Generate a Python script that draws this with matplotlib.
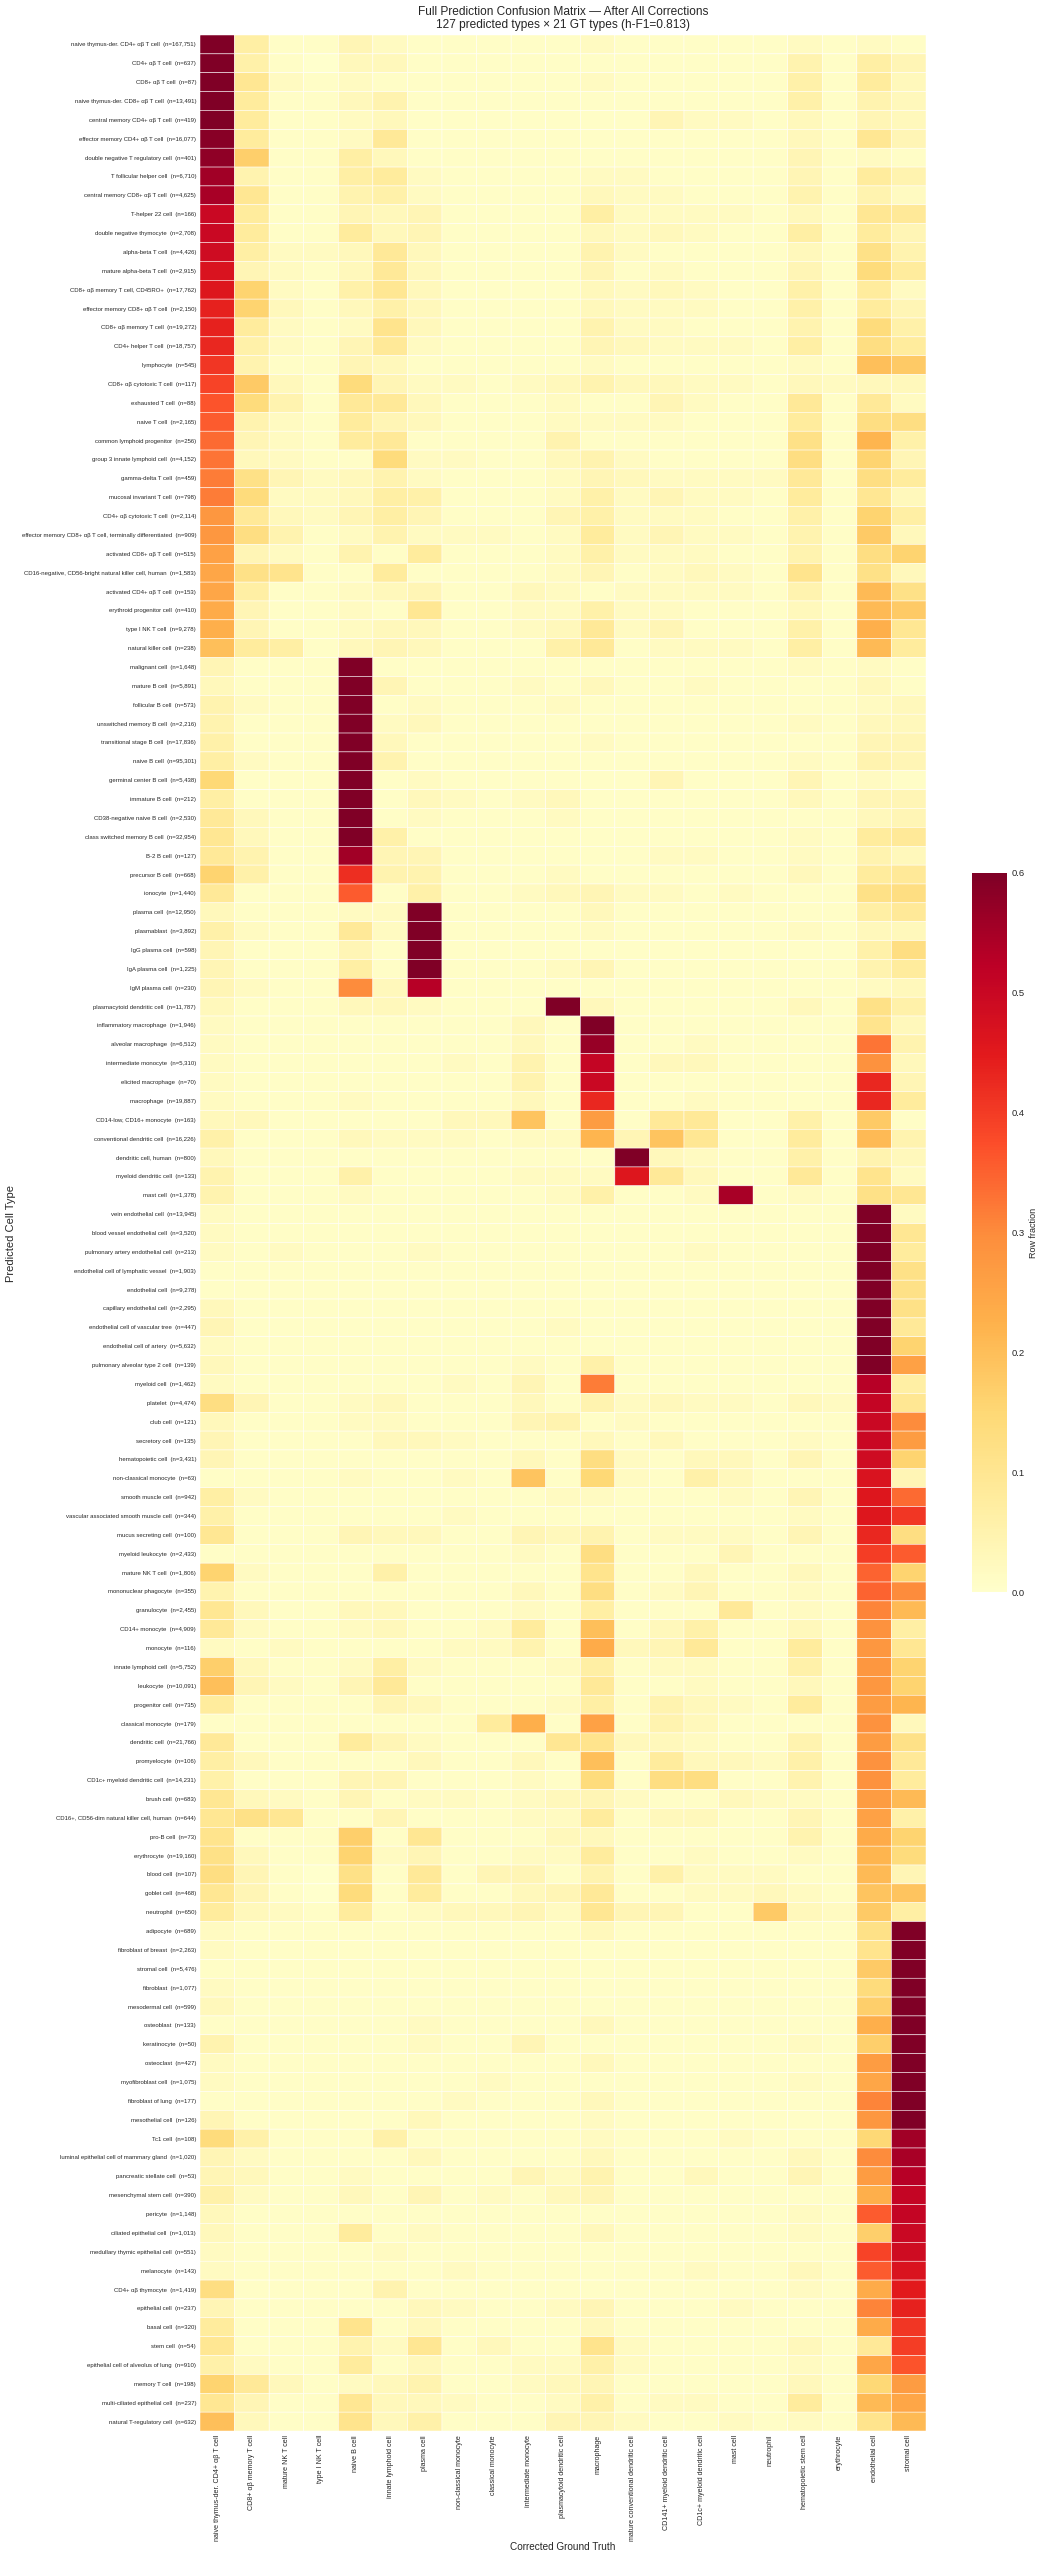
import matplotlib
matplotlib.use("Agg")
import matplotlib.pyplot as plt
import numpy as np

plt.rcParams['font.family'] = ['Liberation Sans', 'DejaVu Sans']
plt.rcParams['text.color'] = '#262626'
plt.rcParams['axes.labelcolor'] = '#262626'
plt.rcParams['xtick.color'] = '#262626'
plt.rcParams['ytick.color'] = '#262626'

gt_types = [
    "naive thymus-der. CD4+ αβ T cell", "CD8+ αβ memory T cell", "mature NK T cell", "type I NK T cell",
    "naive B cell", "innate lymphoid cell", "plasma cell", "non-classical monocyte", "classical monocyte",
    "intermediate monocyte", "plasmacytoid dendritic cell", "macrophage", "mature conventional dendritic cell",
    "CD141+ myeloid dendritic cell", "CD1c+ myeloid dendritic cell", "mast cell", "neutrophil",
    "hematopoietic stem cell", "erythrocyte", "endothelial cell", "stromal cell",
]

pred_types = [
    "naive thymus-der. CD4+ αβ T cell", "CD4+ αβ T cell", "CD8+ αβ T cell", "naive thymus-der. CD8+ αβ T cell",
    "central memory CD4+ αβ T cell", "effector memory CD4+ αβ T cell", "double negative T regulatory cell",
    "T follicular helper cell", "central memory CD8+ αβ T cell", "T-helper 22 cell", "double negative thymocyte",
    "alpha-beta T cell", "mature alpha-beta T cell", "CD8+ αβ memory T cell, CD45RO+",
    "effector memory CD8+ αβ T cell", "CD8+ αβ memory T cell", "CD4+ helper T cell", "lymphocyte",
    "CD8+ αβ cytotoxic T cell", "exhausted T cell", "naive T cell", "common lymphoid progenitor",
    "group 3 innate lymphoid cell", "gamma-delta T cell", "mucosal invariant T cell", "CD4+ αβ cytotoxic T cell",
    "effector memory CD8+ αβ T cell, terminally differentiated", "activated CD8+ αβ T cell",
    "CD16-negative, CD56-bright natural killer cell, human", "activated CD4+ αβ T cell",
    "erythroid progenitor cell", "type I NK T cell", "natural killer cell", "malignant cell", "mature B cell",
    "follicular B cell", "unswitched memory B cell", "transitional stage B cell", "naive B cell",
    "germinal center B cell", "immature B cell", "CD38-negative naive B cell", "class switched memory B cell",
    "B-2 B cell", "precursor B cell", "ionocyte", "plasma cell", "plasmablast", "IgG plasma cell",
    "IgA plasma cell", "IgM plasma cell", "plasmacytoid dendritic cell", "inflammatory macrophage",
    "alveolar macrophage", "intermediate monocyte", "elicited macrophage", "macrophage",
    "CD14-low, CD16+ monocyte", "conventional dendritic cell", "dendritic cell, human", "myeloid dendritic cell",
    "mast cell", "vein endothelial cell", "blood vessel endothelial cell", "pulmonary artery endothelial cell",
    "endothelial cell of lymphatic vessel", "endothelial cell", "capillary endothelial cell",
    "endothelial cell of vascular tree", "endothelial cell of artery", "pulmonary alveolar type 2 cell",
    "myeloid cell", "platelet", "club cell", "secretory cell", "hematopoietic cell", "non-classical monocyte",
    "smooth muscle cell", "vascular associated smooth muscle cell", "mucus secreting cell", "myeloid leukocyte",
    "mature NK T cell", "mononuclear phagocyte", "granulocyte", "CD14+ monocyte", "monocyte",
    "innate lymphoid cell", "leukocyte", "progenitor cell", "classical monocyte", "dendritic cell",
    "promyelocyte", "CD1c+ myeloid dendritic cell", "brush cell", "CD16+, CD56-dim natural killer cell, human",
    "pro-B cell", "erythrocyte", "blood cell", "goblet cell", "neutrophil", "adipocyte", "fibroblast of breast",
    "stromal cell", "fibroblast", "mesodermal cell", "osteoblast", "keratinocyte", "osteoclast",
    "myofibroblast cell", "fibroblast of lung", "mesothelial cell", "Tc1 cell",
    "luminal epithelial cell of mammary gland", "pancreatic stellate cell", "mesenchymal stem cell", "pericyte",
    "ciliated epithelial cell", "medullary thymic epithelial cell", "melanocyte", "CD4+ αβ thymocyte",
    "epithelial cell", "basal cell", "stem cell", "epithelial cell of alveolus of lung", "memory T cell",
    "multi-ciliated epithelial cell", "natural T-regulatory cell",
]

pred_counts = [
    167751, 637, 87, 13491, 419, 16077, 401, 6710, 4625, 166, 2708, 4426, 2915, 17762, 2150, 19272, 18757, 545,
    117, 88, 2165, 256, 4152, 459, 798, 2114, 909, 515, 1583, 153, 410, 9278, 238, 1648, 5891, 573, 2216, 17836,
    95301, 5438, 212, 2530, 32954, 127, 668, 1440, 12950, 3892, 598, 1225, 230, 11787, 1946, 6512, 5310, 70,
    19887, 163, 16226, 800, 133, 1378, 13945, 3520, 213, 1903, 9278, 2295, 447, 5632, 139, 1462, 4474, 121, 135,
    3431, 63, 942, 344, 100, 2433, 1806, 355, 2455, 4909, 116, 5752, 10091, 735, 179, 21766, 106, 14231, 683,
    644, 73, 19160, 107, 468, 650, 689, 2263, 5476, 1077, 599, 133, 50, 427, 1075, 177, 126, 108, 1020, 53, 390,
    1148, 1013, 551, 143, 1419, 237, 320, 54, 910, 198, 237, 632,
]

# row fraction in percent
row_percent = [
    [60,7,1,1,4,2,1,1,1,1,1,2,1,1,1,1,1,2,1,2,1],
    [60,6,1,0,3,3,1,1,1,1,1,1,1,1,1,1,1,5,1,7,4],
    [60,10,2,1,2,1,1,1,1,1,1,2,1,1,1,1,1,6,1,8,3],
    [60,8,1,1,3,5,1,1,1,1,1,1,1,1,1,1,1,6,1,5,3],
    [60,8,1,1,2,3,1,1,1,1,1,1,1,4,2,2,1,3,1,4,3],
    [59,8,1,1,2,9,1,1,1,1,1,1,1,1,1,1,1,3,1,10,4],
    [58,17,1,1,7,3,1,1,1,1,1,1,1,1,1,1,1,4,1,2,1],
    [56,5,1,1,7,8,2,1,1,1,1,2,2,1,1,1,1,4,1,8,5],
    [55,10,1,1,5,6,2,1,1,1,1,3,2,2,1,1,1,5,1,5,2],
    [50,8,1,1,4,3,4,1,1,1,1,7,2,2,2,2,1,3,1,10,9],
    [50,8,1,1,8,3,4,1,1,1,1,3,2,3,2,1,1,7,1,8,4],
    [49,7,2,2,3,9,3,1,1,1,1,5,2,1,1,1,1,3,1,12,5],
    [47,4,2,1,3,9,3,1,1,1,1,4,1,2,1,1,1,4,1,14,8],
    [46,16,2,1,6,10,3,1,1,1,1,3,2,3,2,1,1,6,1,8,2],
    [44,16,3,1,3,6,3,1,1,1,1,3,2,2,2,1,1,6,1,8,4],
    [44,8,2,1,2,11,3,1,1,1,1,5,2,2,1,1,1,5,1,14,6],
    [43,6,2,1,4,9,2,1,1,1,1,4,3,2,2,2,1,7,1,13,8],
    [41,5,1,1,4,3,1,1,1,1,1,2,1,1,1,1,1,2,1,20,18],
    [39,18,3,1,14,4,2,2,1,2,3,5,3,3,2,2,1,3,2,3,3],
    [37,14,5,1,9,9,3,1,1,1,2,1,1,4,2,1,1,9,1,9,2],
    [36,5,2,1,8,4,3,1,1,1,2,2,2,2,1,1,1,8,1,13,13],
    [34,4,2,1,8,9,1,1,1,1,5,1,1,1,1,1,1,12,1,22,6],
    [33,3,2,1,1,14,2,2,1,1,3,5,2,1,1,1,1,13,1,16,4],
    [32,12,4,2,3,5,2,1,1,1,2,4,3,2,2,2,2,9,1,13,8],
    [32,14,2,2,3,7,6,1,1,1,2,6,2,4,2,2,1,8,1,10,3],
    [28,9,3,2,4,7,4,1,1,1,4,6,2,2,2,1,1,6,1,16,7],
    [28,13,5,1,2,5,2,2,2,1,2,8,2,4,2,2,1,5,1,18,3],
    [26,4,2,1,5,1,8,1,1,1,2,6,2,2,2,1,1,5,1,13,16],
    [25,12,11,1,1,8,1,1,1,1,2,4,1,2,3,2,1,11,1,12,3],
    [25,7,1,1,2,3,4,1,1,3,2,1,2,2,2,2,1,5,1,21,12],
    [24,4,1,1,2,1,10,1,1,2,2,6,2,2,1,1,1,3,1,21,18],
    [23,4,1,1,2,3,3,1,1,2,3,9,2,4,1,1,1,6,1,23,10],
    [20,8,7,1,3,4,3,1,1,1,6,9,1,2,2,2,1,7,1,21,8],
    [4,1,1,1,60,1,1,1,1,1,1,1,1,1,1,1,1,2,1,2,1],
    [3,1,1,1,60,4,1,1,1,2,1,3,1,1,2,1,1,1,1,3,1],
    [5,2,1,1,60,1,2,1,1,1,2,1,1,1,1,1,1,1,1,2,3],
    [5,1,1,1,60,2,3,1,1,1,1,1,1,1,1,1,1,2,1,3,3],
    [6,1,1,1,60,3,1,1,1,1,1,2,1,1,1,1,1,1,1,4,4],
    [7,2,1,1,60,5,1,1,1,1,1,1,1,1,1,1,1,2,1,5,4],
    [15,1,1,1,60,1,2,1,1,1,1,1,1,4,1,1,1,4,1,2,1],
    [7,1,1,1,60,1,3,2,1,2,3,1,1,1,1,1,1,3,1,4,4],
    [9,3,1,1,60,1,2,1,1,1,2,1,1,1,1,1,1,1,1,3,4],
    [10,3,1,1,60,6,1,1,1,1,1,1,1,1,1,1,1,2,1,8,9],
    [9,5,1,1,56,4,4,1,1,1,1,1,1,2,2,1,1,2,1,5,3],
    [16,6,1,1,42,5,5,1,1,1,2,1,1,1,1,1,1,3,1,8,9],
    [9,1,1,1,36,1,6,1,1,2,3,4,2,2,1,2,1,1,1,12,13],
    [3,1,1,1,2,2,60,1,1,1,1,3,1,1,1,1,1,1,1,7,9],
    [6,2,1,1,9,2,60,1,1,1,1,2,1,1,1,1,1,2,1,3,3],
    [4,1,1,1,4,1,60,1,1,1,1,1,1,1,1,1,1,1,1,6,13],
    [4,1,1,1,7,1,60,1,1,1,2,4,1,1,1,1,1,1,1,5,8],
    [4,2,1,1,30,3,53,1,1,1,1,1,1,1,1,1,1,1,1,2,3],
    [3,1,1,1,3,3,2,1,1,1,60,3,1,1,1,1,1,3,1,12,6],
    [2,1,1,1,1,1,1,1,1,3,1,60,1,1,1,1,1,1,1,11,3],
    [2,1,1,1,1,1,1,1,1,3,1,57,1,1,2,1,1,1,1,33,5],
    [2,1,1,1,1,1,1,2,1,5,1,51,1,3,3,1,1,1,1,29,3],
    [2,1,1,1,1,1,1,1,1,5,1,50,1,1,1,1,1,1,1,43,4],
    [2,1,1,1,2,1,1,1,1,3,1,43,1,1,2,1,1,1,1,43,8],
    [3,3,1,1,1,1,1,3,3,19,1,27,1,9,9,1,1,6,1,18,1],
    [6,1,1,1,3,2,2,2,1,2,2,22,4,19,10,1,1,8,1,21,5],
    [3,1,1,1,1,1,1,1,1,1,1,1,60,3,2,1,1,6,1,5,3],
    [5,1,1,1,6,1,1,1,1,2,2,2,46,9,3,1,1,9,1,11,2],
    [5,1,1,1,2,1,1,1,1,1,2,6,1,1,2,55,1,2,1,12,10],
    [2,1,1,1,1,1,1,1,1,1,1,1,1,1,1,1,1,1,1,60,2],
    [2,1,1,1,1,1,1,1,1,1,1,1,1,1,1,1,1,1,1,60,10],
    [2,1,2,1,1,1,2,1,1,1,1,1,1,1,2,1,1,1,1,60,8],
    [1,1,1,1,1,1,1,1,1,1,1,1,1,1,1,1,1,1,1,60,12],
    [1,1,1,1,1,1,1,1,1,1,1,1,1,1,1,1,1,1,1,60,12],
    [3,1,1,1,1,1,1,1,1,1,1,1,1,1,1,1,1,1,1,60,12],
    [4,1,1,1,1,1,1,1,1,1,2,1,1,1,1,1,1,1,1,60,9],
    [2,1,1,1,1,1,1,1,1,1,1,1,1,1,1,1,1,1,1,60,16],
    [3,1,1,1,1,1,1,1,1,2,1,6,1,1,1,1,1,1,1,60,26],
    [2,1,1,1,1,1,1,2,1,4,1,32,1,1,1,1,1,1,1,53,7],
    [13,4,1,1,2,3,1,1,1,3,1,5,2,3,2,2,1,3,2,51,10],
    [3,1,1,1,2,2,1,1,1,4,5,1,2,1,1,1,1,1,1,50,30],
    [4,1,1,1,1,3,3,2,1,1,1,3,1,3,1,1,1,2,1,50,27],
    [4,1,1,1,1,1,1,1,1,3,1,13,2,1,3,3,1,4,1,49,16],
    [1,1,1,1,2,1,1,2,1,19,1,15,2,1,6,3,1,1,1,47,4],
    [7,2,1,1,1,1,1,1,1,1,2,2,1,1,1,2,1,4,1,46,34],
    [6,1,1,1,1,1,1,2,1,1,1,1,1,1,1,1,1,2,1,46,41],
    [10,1,1,1,4,3,3,1,1,4,3,5,1,2,2,2,1,4,1,43,13],
    [1,1,1,1,1,1,1,1,1,2,1,13,1,1,1,4,1,1,1,40,36],
    [16,2,1,1,1,6,1,1,1,1,1,11,1,1,3,1,1,3,1,35,16],
    [5,1,1,1,1,1,1,1,1,3,1,13,1,2,4,1,1,2,1,35,30],
    [10,3,1,1,3,3,1,1,1,2,1,7,1,1,1,9,1,2,1,31,21],
    [9,2,1,1,2,3,1,1,2,8,1,20,1,3,6,1,1,3,1,29,7],
    [2,1,2,1,1,1,1,2,2,5,1,24,3,4,9,1,1,8,1,28,10],
    [17,3,1,1,2,7,2,1,1,1,2,7,1,2,2,1,1,6,1,28,16],
    [20,4,2,1,4,9,1,1,1,1,1,9,1,1,2,1,1,3,1,28,16],
    [8,1,1,1,1,4,3,1,1,1,2,7,1,5,3,2,1,8,1,27,22],
    [1,1,1,1,1,1,1,1,8,23,1,26,1,5,3,1,1,1,1,29,3],
    [9,1,1,1,8,4,2,1,1,1,10,11,3,3,2,1,1,5,1,27,12],
    [7,3,1,1,1,1,3,1,1,3,1,20,1,8,3,3,2,6,1,29,9],
    [6,1,1,1,4,4,1,1,1,2,1,14,1,13,13,1,1,5,1,29,8],
    [10,3,2,1,4,1,2,2,1,2,3,4,2,1,1,3,2,2,1,27,21],
    [10,12,10,1,1,4,1,1,1,2,2,8,1,3,3,1,1,4,1,26,6],
    [11,1,1,1,17,1,10,1,1,1,3,3,1,1,1,1,1,5,1,24,16],
    [12,3,1,1,16,2,4,1,1,2,2,8,1,1,2,1,1,2,1,22,14],
    [13,4,1,0,12,1,9,1,4,4,1,5,1,6,2,2,2,1,1,21,4],
    [10,4,1,0,14,1,8,1,1,3,4,9,1,1,2,2,3,2,1,19,19],
    [8,3,2,1,8,1,2,3,3,4,2,10,4,4,1,1,18,3,2,18,7],
    [2,1,1,1,1,1,1,1,1,1,1,3,1,1,1,1,1,1,1,12,60],
    [2,1,1,1,1,1,1,1,1,1,1,1,1,1,1,1,1,1,1,11,60],
    [1,1,1,1,1,1,1,1,1,1,1,1,1,1,1,1,1,1,1,18,60],
    [2,1,1,1,1,1,1,1,1,1,1,1,1,1,1,1,1,1,1,14,60],
    [3,1,1,1,1,1,1,1,1,1,1,1,1,1,1,1,1,1,1,17,60],
    [1,1,1,1,1,1,2,1,1,1,1,3,1,1,1,1,1,1,1,23,60],
    [5,1,1,1,1,1,2,1,1,4,1,1,1,1,1,1,1,2,1,17,60],
    [2,1,1,1,1,1,1,1,1,1,1,3,1,1,1,1,1,1,1,27,60],
    [2,1,1,1,1,1,1,1,2,1,1,1,1,1,1,1,1,2,1,25,60],
    [1,1,1,1,1,1,1,2,1,1,1,3,1,1,1,1,1,1,1,31,60],
    [4,1,1,1,1,1,3,1,1,1,1,2,1,1,1,1,1,1,1,28,60],
    [14,6,1,1,1,6,1,1,1,1,1,2,1,1,1,2,1,1,1,15,56],
    [4,2,1,1,1,1,3,1,1,1,1,3,1,1,1,1,1,3,1,30,55],
    [4,3,1,1,2,1,1,1,1,4,2,5,1,1,3,1,1,4,1,27,53],
    [6,2,1,1,3,1,4,1,2,1,3,4,1,1,1,1,1,1,1,23,51],
    [3,1,1,1,1,1,1,1,1,1,1,1,1,1,1,1,1,2,1,36,51],
    [3,1,1,1,8,1,2,1,1,1,1,3,1,1,1,1,1,2,1,17,50],
    [2,1,1,1,1,2,1,1,1,1,1,1,1,1,1,1,1,1,1,39,49],
    [2,1,1,1,1,1,1,2,1,1,1,1,1,1,2,1,1,3,1,36,47],
    [13,1,1,1,1,5,1,1,1,1,1,1,1,1,1,1,1,2,1,24,45],
    [4,1,1,1,1,1,3,2,1,1,2,4,1,1,1,2,1,1,1,31,44],
    [8,1,1,1,11,1,3,1,1,1,1,3,1,1,1,1,1,1,1,24,41],
    [10,1,1,1,5,2,10,1,3,1,1,11,2,1,1,1,1,3,1,9,40],
    [6,2,1,1,8,1,3,1,1,2,2,6,2,1,1,1,1,2,1,25,37],
    [16,9,3,1,2,3,5,1,1,2,3,4,1,1,1,1,1,3,1,15,27],
    [10,4,1,1,10,3,3,2,1,1,2,6,1,2,2,1,1,8,1,21,25],
    [20,3,1,1,11,3,6,1,1,1,4,4,2,1,1,2,1,2,1,11,21],
]

W, H = 1045, 2560
fig = plt.figure(figsize=(W / 100, H / 100), dpi=100)
ax = fig.add_axes([200 / W, 1 - 2431 / H, 726 / W, (2431 - 35) / H])

fractions = np.array(row_percent) / 100
mesh = ax.pcolormesh(fractions, cmap='YlOrRd', vmin=0, vmax=0.6, edgecolors='white', linewidth=0.35, antialiased=True)
mesh.set_snap(False)
ax.invert_yaxis()
for s in ax.spines.values():
    s.set_visible(False)

ax.set_xticks(np.arange(len(gt_types)) + 0.5)
ax.set_xticklabels(gt_types, rotation=90, fontsize=5.1)
ax.set_yticks(np.arange(len(pred_types)) + 0.5)
ax.set_yticklabels([f"{p}  (n={n:,})" for p, n in zip(pred_types, pred_counts)], fontsize=4.3)
ax.tick_params(length=0, pad=2.8)

fig.text(563 / W, 1 - 18.5 / H, "Full Prediction Confusion Matrix — After All Corrections\n127 predicted types × 21 GT types (h-F1=0.813)",
         ha='center', va='center', fontsize=8.6, linespacing=1.15)
fig.text(563 / W, 1 - 2547 / H, "Corrected Ground Truth", ha='center', va='center', fontsize=7.2)
fig.text(11 / W, 1 - 1233 / H, "Predicted Cell Type", ha='center', va='center', rotation=90, fontsize=8)

cax = fig.add_axes([972 / W, 1 - 1592 / H, 35 / W, (1592 - 873) / H])
cb = fig.colorbar(mesh, cax=cax)
cb.outline.set_visible(False)
cb.solids.set_edgecolor('face')
cb.set_ticks(np.arange(0, 0.61, 0.1))
cb.ax.tick_params(length=0, labelsize=6.8, pad=3)
cb.set_label("Row fraction", fontsize=6.5, labelpad=3)

fig.savefig("out.png", dpi=100)
